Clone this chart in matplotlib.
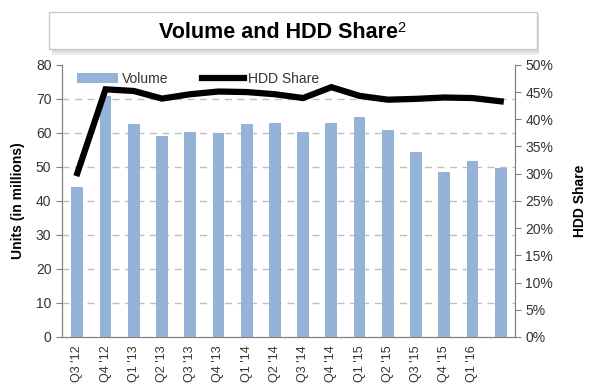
import matplotlib
matplotlib.use("Agg")
import matplotlib.pyplot as plt
from matplotlib.patches import Rectangle
import numpy as np

plt.rcParams['font.family'] = ['Liberation Sans', 'DejaVu Sans']

quarters = ["Q3 '12", "Q4 '12", "Q1 '13", "Q2 '13", "Q3 '13", "Q4 '13", "Q1 '14", "Q2 '14",
            "Q3 '14", "Q4 '14", "Q1 '15", "Q2 '15", "Q3 '15", "Q4 '15", "Q1 '16", ""]
volume = [44.1, 70.8, 62.6, 59.1, 60.2, 59.9, 62.6, 63.0, 60.4, 63.0, 64.6, 60.9, 54.4, 48.5, 51.6, 49.7]
hdd_share = [30.1, 45.5, 45.2, 43.8, 44.6, 45.1, 45.0, 44.6, 43.9, 45.9, 44.3, 43.6, 43.75, 44.0, 43.9, 43.3]

bar_color = "#95B3D7"
txt = "#333333"

fig = plt.figure(figsize=(6.0, 3.86), dpi=100)
ax = fig.add_axes([0.103, 0.127, 0.755, 0.705])
ax2 = ax.twinx()
ax.set_zorder(1)
ax2.set_zorder(2)
ax.patch.set_visible(False)

x = np.arange(len(volume))
ax.bar(x, volume, width=0.42, color=bar_color, label="Volume", zorder=3)
ax.set_xlim(-0.55, len(volume) - 0.5)
ax.set_ylim(0, 80)
ax.set_yticks(range(0, 81, 10))
for y in range(10, 80, 10):
    ax.axhline(y, color="#BFBFBF", lw=1.0, ls=(0, (5, 4)), zorder=1)

ax2.plot(x, hdd_share, color="black", lw=4.5, solid_joinstyle="miter", label="HDD Share")
ax2.set_ylim(0, 50)
ax2.set_yticks(range(0, 51, 5))
ax2.set_yticklabels([f"{v}%" for v in range(0, 51, 5)])

ax.set_xticks(x)
ax.set_xticklabels(quarters, rotation=90, fontsize=9, color=txt)
ax.tick_params(axis="x", length=0, pad=6)
ax.tick_params(axis="y", labelsize=10, colors=txt, length=4, color="#808080")
ax2.tick_params(axis="y", labelsize=10, colors=txt, length=4, color="#808080")

for a in (ax, ax2):
    for s in a.spines.values():
        s.set_color("#808080")
    a.spines["top"].set_visible(False)

ax.set_ylabel("Units (in millions)", fontsize=10, fontweight="bold", color="black", labelpad=8)
ax2.set_ylabel("HDD Share", fontsize=10, fontweight="bold", color="black", labelpad=14)

h1, l1 = ax.get_legend_handles_labels()
h2, l2 = ax2.get_legend_handles_labels()
leg = ax2.legend(h1 + h2, l1 + l2, loc="upper left", bbox_to_anchor=(0.005, 1.02), ncol=2,
                 frameon=False, fontsize=10, handlelength=3.0, columnspacing=2.4,
                 handletextpad=0.3)
for t in leg.get_texts():
    t.set_color(txt)

# Title box with soft shadow
for i, c in enumerate(["#F2F2F2", "#E6E6E6", "#DCDCDC"]):
    off = 0.004 * (3 - i)
    fig.patches.append(Rectangle((0.082 + 0.004, 0.873 - off - 0.004), 0.813, 0.096,
                                 transform=fig.transFigure, facecolor=c,
                                 edgecolor="none", zorder=5))
box = Rectangle((0.082, 0.873), 0.813, 0.096, transform=fig.transFigure,
                facecolor="white", edgecolor="#C8C8C8", lw=1.0, zorder=6)
fig.patches.append(box)
fig.text(0.464, 0.915, "Volume and HDD Share", ha="center", va="center",
         fontsize=15.5, fontweight="bold", color="black", zorder=7)
fig.text(0.662, 0.927, "2", ha="left", va="center", fontsize=10.5, color="black", zorder=7)

fig.savefig("out.png", dpi=100)
